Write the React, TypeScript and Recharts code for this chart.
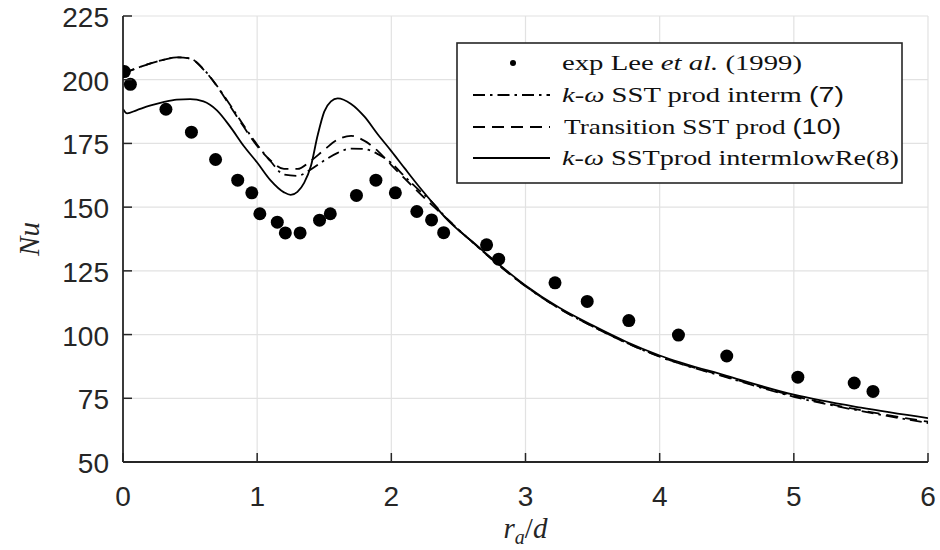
import {
  CartesianGrid, ComposedChart, Legend, Line, Scatter, XAxis, YAxis,
} from "recharts";

// experiment, Lee et al. (1999)
const expX = [0.01, 0.055, 0.32, 0.51, 0.69, 0.855, 0.96, 1.02, 1.15, 1.21, 1.32, 1.465, 1.545, 1.74, 1.885, 2.03, 2.19, 2.3, 2.39, 2.71, 2.8, 3.22, 3.46, 3.77, 4.14, 4.5, 5.03, 5.45, 5.59];
const expNu = [203.2, 198.2, 188.4, 179.4, 168.7, 160.6, 155.6, 147.4, 144.1, 139.9, 139.9, 144.9, 147.4, 154.6, 160.6, 155.6, 148.3, 145, 140, 135.2, 129.6, 120.3, 113, 105.5, 99.8, 91.6, 83.3, 81, 77.7];

// k-omega SST prod interm (7)
const interm7X = [0, 0.1, 0.2, 0.3, 0.4, 0.5, 0.6, 0.7, 0.8, 0.9, 1.0, 1.1, 1.2, 1.3, 1.4, 1.5, 1.6, 1.7, 1.8, 1.9, 2.0, 2.1, 2.2, 2.3, 2.4, 2.5, 2.6, 2.8, 3.0, 3.25, 3.5, 3.75, 4.0, 4.5, 5.0, 5.5, 6.0];
const interm7Nu = [202.5, 204.5, 206.3, 207.8, 208.8, 208.3, 204.2, 197.6, 190, 182, 174.5, 168, 162.8, 162.3, 164.8, 168.3, 171.3, 173, 172.8, 170.8, 167.3, 162, 157, 152.2, 146.3, 141.2, 136.5, 127.3, 119, 110.3, 103.2, 96.8, 91.3, 83.2, 75.6, 70, 65.3];

// Transition SST prod (10)
const trans10X = [0, 0.1, 0.2, 0.3, 0.4, 0.5, 0.6, 0.7, 0.8, 0.9, 1.0, 1.1, 1.2, 1.3, 1.4, 1.5, 1.6, 1.7, 1.8, 1.9, 2.0, 2.1, 2.2, 2.3, 2.4, 2.5, 2.6, 2.8, 3.0, 3.25, 3.5, 3.75, 4.0, 4.5, 5.0, 5.5, 6.0];
const trans10Nu = [202.5, 204.5, 206.3, 207.8, 208.8, 208.3, 204, 197.5, 189.5, 181.5, 174, 168.3, 165, 165, 168.2, 172.5, 176.5, 178, 176, 172, 166.5, 161.2, 156, 151, 146.2, 141.2, 136.5, 127.3, 119, 110.3, 103.2, 96.8, 91.4, 83.4, 75.9, 70.3, 65.8];

// k-omega SST prod interm lowRe (8)
const lowRe8X = [0, 0.03, 0.1, 0.2, 0.3, 0.4, 0.5, 0.6, 0.7, 0.8, 0.9, 1.0, 1.1, 1.2, 1.25, 1.3, 1.35, 1.4, 1.45, 1.5, 1.55, 1.6, 1.7, 1.8, 1.9, 2.0, 2.1, 2.2, 2.3, 2.4, 2.5, 2.6, 2.8, 3.0, 3.25, 3.5, 3.75, 4.0, 4.5, 5.0, 5.5, 6.0];
const lowRe8Nu = [188.5, 186.8, 188, 189.8, 191.2, 192.2, 192.4, 191.5, 188, 181.5, 174, 167.5, 160.5, 155.8, 154.8, 156, 159.5, 166, 178, 187.5, 191.5, 192.7, 190.5, 185.5, 178.5, 172, 165.2, 158.5, 152.2, 146, 141, 136.6, 127.6, 119.3, 110.6, 103.6, 97.2, 91.8, 83.8, 76.4, 71.3, 67.2];

const xTicks = [0, 1, 2, 3, 4, 5, 6];
const yTicks = [50, 75, 100, 125, 150, 175, 200, 225];

const zip = (xs: number[], ys: number[]) => xs.map((x, i) => ({ x, y: ys[i] }));
const expData = zip(expX, expNu);
const interm7 = zip(interm7X, interm7Nu);
const trans10 = zip(trans10X, trans10Nu);
const lowRe8 = zip(lowRe8X, lowRe8Nu);

const AXIS = "#262626";
const SANS = "'Liberation Sans', Arial, sans-serif";
const SERIF = "'Liberation Serif', 'Times New Roman', serif";
const DASH = "12 7";
const DASHDOT = "12 5 2.5 5";

function XTick({ x, y, payload }: any) {
  return (
    <g>
      <line x1={x} x2={x} y1={y} y2={y - 9} stroke={AXIS} strokeWidth={1.5} />
      <text x={x} y={y + 44} textAnchor="middle" fontFamily={SANS} fontSize={28} fill={AXIS}>
        {payload.value}
      </text>
    </g>
  );
}

function YTick({ x, y, payload }: any) {
  return (
    <g>
      <line x1={x} x2={x + 9} y1={y} y2={y} stroke={AXIS} strokeWidth={1.5} />
      <text x={x - 14} y={y + 11} textAnchor="end" fontFamily={SANS} fontSize={28} fill={AXIS}>
        {payload.value}
      </text>
    </g>
  );
}

function XLabel({ viewBox }: any) {
  const cx = viewBox.x + viewBox.width / 2;
  return (
    <text x={cx} y={viewBox.y + 76} textAnchor="middle" fontFamily={SERIF} fontSize={29} fill={AXIS}>
      <tspan fontStyle="italic">r</tspan>
      <tspan fontStyle="italic" fontSize={20} dy={6}>a</tspan>
      <tspan dy={-6}>/</tspan>
      <tspan fontStyle="italic">d</tspan>
    </text>
  );
}

function YLabel({ viewBox }: any) {
  const cy = viewBox.y + viewBox.height / 2;
  return (
    <text x={39} y={cy} transform={`rotate(-90 39 ${cy})`} textAnchor="middle"
      fontFamily={SERIF} fontSize={29} fontStyle="italic" fill={AXIS}>
      Nu
    </text>
  );
}

function LegendBox() {
  const lx1 = 17, lx2 = 94, tx = 106;
  const rows = [21, 53, 85, 116];
  const base = (c: number) => c + 6.5;
  const txt = { fontFamily: SERIF, fontSize: 22, fill: "#111" };
  return (
    <svg width={448} height={143} style={{ display: "block" }}>
      <rect x={1} y={1} width={445} height={140} fill="#fff" stroke={AXIS} strokeWidth={1.6} />
      <circle cx={57} cy={rows[0]} r={3} fill="#000" />
      <text x={tx} y={base(rows[0])} {...txt} textLength={240} lengthAdjust="spacingAndGlyphs">
        exp Lee <tspan fontStyle="italic">et al.</tspan> (1999)
      </text>
      <line x1={lx1} x2={lx2} y1={rows[1]} y2={rows[1]} stroke="#000" strokeWidth={1.8} strokeDasharray={DASHDOT} />
      <text x={tx} y={base(rows[1])} {...txt} textLength={282} lengthAdjust="spacingAndGlyphs">
        <tspan fontStyle="italic">k</tspan>-<tspan fontStyle="italic">ω</tspan> SST prod interm <tspan fontFamily={SANS}>(7)</tspan>
      </text>
      <line x1={lx1} x2={lx2} y1={rows[2]} y2={rows[2]} stroke="#000" strokeWidth={1.8} strokeDasharray={DASH} />
      <text x={tx + 2} y={base(rows[2])} {...txt} textLength={277} lengthAdjust="spacingAndGlyphs">
        Transition SST prod <tspan fontFamily={SANS}>(10)</tspan>
      </text>
      <line x1={lx1} x2={lx2} y1={rows[3]} y2={rows[3]} stroke="#000" strokeWidth={1.8} />
      <text x={tx} y={base(rows[3])} {...txt} textLength={337} lengthAdjust="spacingAndGlyphs">
        <tspan fontStyle="italic">k</tspan>-<tspan fontStyle="italic">ω</tspan> SSTprod intermlowRe(8)
      </text>
    </svg>
  );
}

export default function App() {
  return (
    <div style={{ position: "absolute", left: 0, top: 0, background: "#fff" }}>
      <ComposedChart width={940} height={550} margin={{ top: 16, right: 12, bottom: 0, left: 0 }}>
        <CartesianGrid stroke="#e2e2e2" strokeWidth={1.2} />
        <XAxis dataKey="x" type="number" domain={[0, 6]} ticks={xTicks} allowDataOverflow
          height={88} tickSize={0} tickMargin={0} tickLine={false}
          axisLine={{ stroke: AXIS, strokeWidth: 1.8 }} tick={<XTick />} label={{ content: <XLabel /> }} />
        <YAxis dataKey="y" type="number" domain={[50, 225]} ticks={yTicks} allowDataOverflow
          width={123} tickSize={0} tickMargin={0} tickLine={false}
          axisLine={{ stroke: AXIS, strokeWidth: 1.8 }} tick={<YTick />} label={{ content: <YLabel /> }} />
        <Line data={interm7} dataKey="y" type="monotone" stroke="#000" strokeWidth={1.8}
          strokeDasharray={DASHDOT} dot={false} isAnimationActive={false} />
        <Line data={trans10} dataKey="y" type="monotone" stroke="#000" strokeWidth={1.8}
          strokeDasharray={DASH} dot={false} isAnimationActive={false} />
        <Line data={lowRe8} dataKey="y" type="monotone" stroke="#000" strokeWidth={1.8}
          dot={false} isAnimationActive={false} />
        <Scatter data={expData} dataKey="y" fill="#000" isAnimationActive={false}
          shape={(p: any) => <circle cx={p.cx} cy={p.cy} r={6.5} fill="#000" />} />
        <Legend layout="vertical" align="center" verticalAlign="middle" content={<LegendBox />}
          wrapperStyle={{ left: 456, top: 42, width: 448, height: 143 }} />
      </ComposedChart>
    </div>
  );
}
